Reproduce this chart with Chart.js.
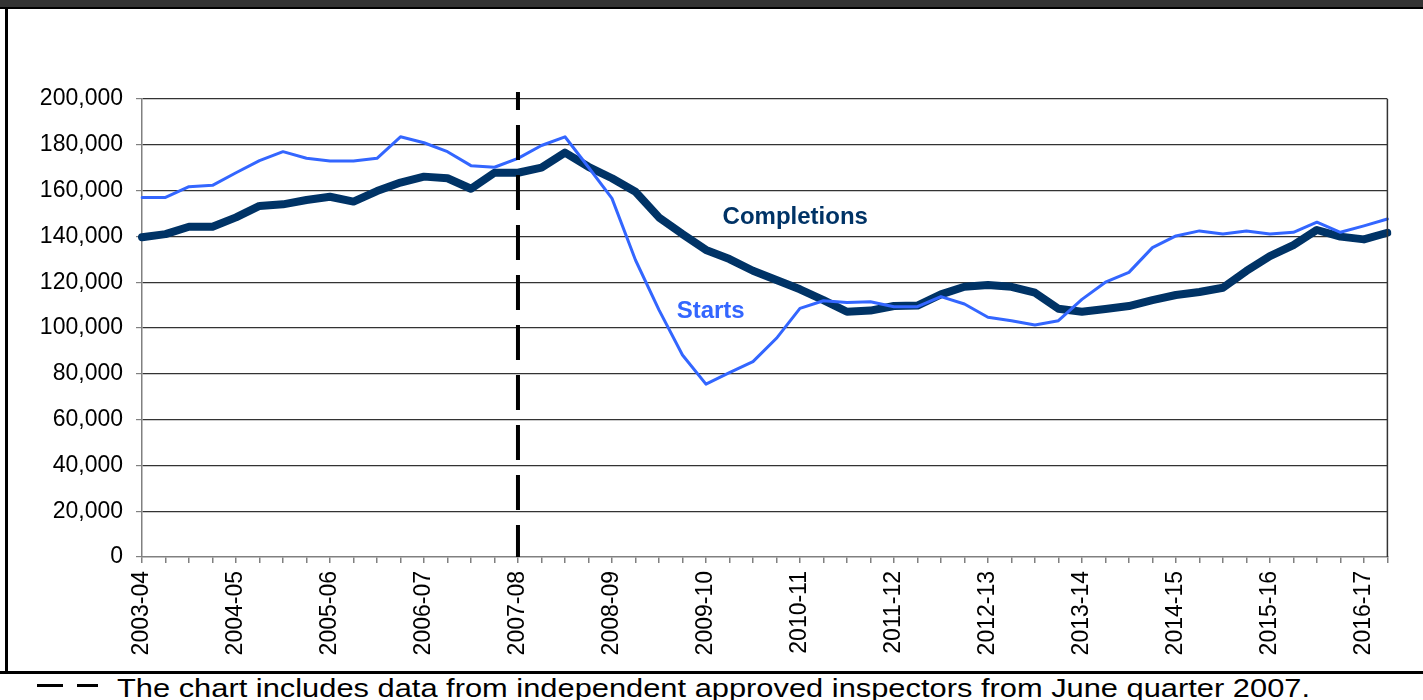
<!DOCTYPE html>
<html>
<head>
<meta charset="utf-8">
<script src="https://cdn.jsdelivr.net/npm/chart.js@4.4.0/dist/chart.umd.min.js"></script>
<style>
    html, body { margin: 0; padding: 0; background: #fff; width: 1423px; height: 700px; overflow: hidden; font-family: "Liberation Sans", Arial, sans-serif; }
    #topbar { position: absolute; left: 0; top: 0; width: 1423px; height: 7px; background: #333; }
    #topline { position: absolute; left: 0; top: 7px; width: 1423px; height: 2px; background: #000; }
    #leftline { position: absolute; left: 5px; top: 9px; width: 3px; height: 663px; background: #000; }
    #bottomline { position: absolute; left: 0; top: 671px; width: 1423px; height: 3px; background: #000; }
    #wrap { position: absolute; left: 8px; top: 9px; width: 1415px; height: 662px; }
    .dash { position: absolute; top: 684px; height: 3px; background: #000; }
    #note { position: absolute; left: 117px; top: 675px; font-size: 26px; line-height: 26px; white-space: nowrap; color: #000; transform-origin: 0 0; }
</style>
</head>
<body>
<div id="topbar"></div>
<div id="topline"></div>
<div id="leftline"></div>
<div id="wrap"><canvas id="chart"></canvas></div>
<div id="bottomline"></div>
<span class="dash" style="left:37px;width:26px;"></span>
<span class="dash" style="left:77px;width:21px;"></span>
<div id="note">The chart includes data from independent approved inspectors from June quarter 2007.</div>

<script>
// Financial years shown on the axis (one label every four quarters)
const years = ['2003-04', '2004-05', '2005-06', '2006-07', '2007-08', '2008-09', '2009-10',
    '2010-11', '2011-12', '2012-13', '2013-14', '2014-15', '2015-16', '2016-17'];
const quarters = ['Q1', 'Q2', 'Q3', 'Q4'];

// Quarterly values, 2003-04 Q1 .. 2016-17 Q2
const starts = [157000, 157000, 161700, 162300, 167800, 173100, 177000, 174100, 172900, 172900,
    174100, 183500, 180900, 177000, 170900, 170200, 174100, 179700, 183500, 170200,
    156600, 129700, 107900, 88200, 75500, 80500, 85300, 95500, 108600, 111900,
    111100, 111500, 109300, 109300, 113700, 110500, 104700, 103200, 101300, 103200,
    112500, 120000, 124300, 135100, 140200, 142400, 141000, 142400, 141000, 141800,
    146200, 141800, 144600, 147600];
const completions = [139600, 141000, 144200, 144200, 148300, 153300, 154000, 155900, 157300, 155200,
    159800, 163500, 166100, 165400, 160800, 167800, 167800, 170000, 176600, 170400,
    165400, 159500, 148300, 141000, 134100, 130100, 125000, 121000, 116900, 112200,
    107100, 107600, 109600, 109800, 114700, 118000, 118800, 118000, 115400, 108400,
    107100, 108300, 109600, 112200, 114400, 115700, 117600, 124900, 131400, 136200,
    142800, 139900, 138700, 141600];

const breakIndex = 16; // June quarter 2007
const lineLabels = [
    { text: 'Completions', x: 27.8, y: 148500, color: '#003366' },
    { text: 'Starts', x: 24.2, y: 107400, color: '#3366ff' }
];

const categories = [];
years.forEach(y => quarters.forEach(q => categories.push(y + ' ' + q)));
categories.length = starts.length;

const overlay = {
    id: 'overlay',
    afterDatasetsDraw(chart) {
        const { ctx, chartArea, scales: { x, y } } = chart;
        ctx.save();
        // right frame of the plot
        ctx.strokeStyle = '#333';
        ctx.lineWidth = 1.5;
        ctx.beginPath();
        ctx.moveTo(chartArea.right, chartArea.top);
        ctx.lineTo(chartArea.right, chartArea.bottom);
        ctx.stroke();

        // break marker
        const bx = x.getPixelForValue(breakIndex);
        ctx.strokeStyle = '#000';
        ctx.lineWidth = 4;
        ctx.setLineDash([35, 15]);
        ctx.lineDashOffset = 17;
        ctx.beginPath();
        ctx.moveTo(bx, chartArea.top - 7);
        ctx.lineTo(bx, chartArea.bottom);
        ctx.stroke();
        ctx.setLineDash([]);

        // series names
        ctx.font = 'bold 24px "Liberation Sans", Arial, sans-serif';
        ctx.textAlign = 'center';
        ctx.textBaseline = 'middle';
        lineLabels.forEach(l => {
            ctx.fillStyle = l.color;
            ctx.fillText(l.text, x.getPixelForValue(l.x), y.getPixelForValue(l.y));
        });
        ctx.restore();
    }
};

new Chart(document.getElementById('chart'), {
    type: 'line',
    data: {
        labels: categories,
        datasets: [
            { label: 'Starts', data: starts, borderColor: '#3366ff', borderWidth: 3, order: 1 },
            { label: 'Completions', data: completions, borderColor: '#003366', borderWidth: 8, order: 2 }
        ]
    },
    options: {
        responsive: true, maintainAspectRatio: false, animation: false,
        layout: { padding: { top: 90, right: 35, left: 0, bottom: 0 } },
        elements: {
            point: { radius: 0 },
            line: { tension: 0, borderJoinStyle: 'round', borderCapStyle: 'round', fill: false }
        },
        plugins: { legend: { display: false }, tooltip: { enabled: false } },
        scales: {
            x: {
                afterFit(s) { s.height = 114; },
                border: { color: '#808080', width: 1.5 },
                grid: { drawOnChartArea: false, tickLength: 6, tickColor: '#808080', lineWidth: 1.5 },
                ticks: {
                    autoSkip: false, maxRotation: 90, minRotation: 90, padding: 8,
                    color: '#000', font: { family: '"Liberation Sans", Arial, sans-serif', size: 23 },
                    callback: (v, i) => i % 4 === 0 ? years[i / 4] : ''
                }
            },
            y: {
                min: 0, max: 200000,
                afterFit(s) { s.width = 134; },
                border: { color: '#808080', width: 1.5 },
                grid: {
                    color: c => c.tick && c.tick.value === 0 ? 'rgba(0,0,0,0)' : '#333',
                    tickColor: '#808080', tickLength: 6, lineWidth: 1.2
                },
                ticks: {
                    stepSize: 20000, padding: 13, color: '#000',
                    font: { family: '"Liberation Sans", Arial, sans-serif', size: 23 },
                    callback: v => v.toLocaleString('en-US')
                }
            }
        }
    },
    plugins: [overlay]
});

// narrow footnote: squeeze the text to the width it has in the original
const note = document.getElementById('note');
const mctx = document.createElement('canvas').getContext('2d');
mctx.font = '26px "Liberation Sans", Arial, sans-serif';
const natural = mctx.measureText(note.textContent).width;
note.style.transform = 'scaleX(' + (1193 / natural) + ')';
</script>
</body>
</html>
